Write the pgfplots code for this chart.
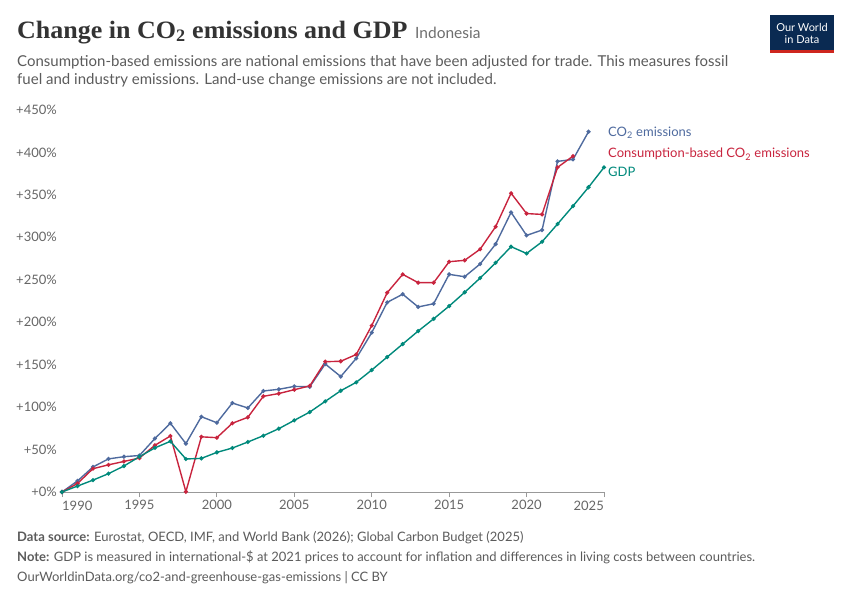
\documentclass[border=0pt]{standalone}
\usepackage{pgfplots}
\pgfplotsset{compat=1.18}
\usepackage{fontspec}
\setmainfont{Lato}
\newfontfamily\titlefont{Liberation Serif}
\definecolor{co2}{HTML}{4E6A9E}
\definecolor{cons}{HTML}{C8243E}
\definecolor{gdp}{HTML}{00897B}
\definecolor{txt}{HTML}{5B5B5B}
\definecolor{tick}{HTML}{666666}
\definecolor{owid}{HTML}{0A2A52}
\definecolor{owidred}{HTML}{CE261E}
\begin{document}
\begin{tikzpicture}
\path[use as bounding box] (0,0) rectangle (850bp,-600bp);
% title
\node[anchor=base west,inner sep=0pt,xscale=1.04] at (17bp,-38bp) {\titlefont\bfseries\fontsize{25bp}{28bp}\selectfont\color[HTML]{333333}Change in CO\textsubscript{2} emissions and GDP};
\node[anchor=base west,inner sep=0pt,text=black!57] at (415bp,-38bp) {\fontsize{15.5bp}{18bp}\selectfont Indonesia};
\node[anchor=base west,inner sep=0pt,text=txt,font=\fontsize{15bp}{17bp}\selectfont] at (17bp,-66.5bp) {Consumption-based emissions are national emissions that have been adjusted for trade. This measures fossil};
\node[anchor=base west,inner sep=0pt,text=txt,font=\fontsize{15bp}{17bp}\selectfont] at (17bp,-84bp) {fuel and industry emissions. Land-use change emissions are not included.};
% logo
\fill[owid] (770bp,-15bp) rectangle (834bp,-50bp);
\fill[owidred] (770bp,-50bp) rectangle (834bp,-53bp);
\node[text=white,align=center,inner sep=0pt,font=\fontsize{11bp}{12bp}\selectfont] at (802bp,-33bp) {Our World\\in Data};
\begin{axis}[
  at={(62bp,-492bp)}, anchor=south west,
  scale only axis, width=542bp, height=382bp,
  xmin=1990, xmax=2025, ymin=0, ymax=450,
  axis lines*=left,
  axis y line=none,
  axis x line*=bottom,
  x axis line style={draw=black!40,line width=0.8pt,-},
  xtick={1995,2000,...,2020},
  extra x ticks={1990,2025},
  extra x tick labels={},
  x tick label style={text=tick,font=\fontsize{13bp}{15bp}\selectfont},
  xticklabel={\pgfmathprintnumber[1000 sep=]{\tick}},
  major tick length=5bp,
  xtick style={draw=black!40,line width=0.8pt},
  tick align=outside,
  ytick={0,50,...,450},
  ymajorgrids,
  grid style={dashed,draw=black!15,line width=0.7pt,dash pattern=on 4bp off 3bp},
  clip=false,
  every axis plot/.append style={line width=1.4pt,mark=*,mark size=1.3pt},
  /pgf/number format/assume math mode=true,
]
\addplot[color=co2] coordinates {
(1990,0)(1991,13)(1992,29.5)(1993,39)(1994,41.6)(1995,43)(1996,63)(1997,81)(1998,57)(1999,88.7)
(2000,81.6)(2001,104.8)(2002,99)(2003,119)(2004,121)(2005,124.4)(2006,124)(2007,150.8)(2008,136)(2009,157.4)
(2010,187.7)(2011,223.4)(2012,233)(2013,218)(2014,221.8)(2015,256.4)(2016,253.6)(2017,268.6)(2018,292)(2019,329.4)
(2020,302.3)(2021,308.6)(2022,389.5)(2023,391.8)(2024,424.4)};
\addplot[color=cons] coordinates {
(1990,0)(1991,10)(1992,27.5)(1993,32)(1994,36)(1995,40)(1996,55)(1997,66)(1998,0.4)(1999,65)
(2000,64)(2001,81)(2002,88)(2003,112.7)(2004,116)(2005,120.5)(2006,125)(2007,153.5)(2008,154)(2009,162)
(2010,196)(2011,234.8)(2012,256.4)(2013,246.6)(2014,246.6)(2015,271.3)(2016,272.9)(2017,286)(2018,312.5)(2019,352)
(2020,328)(2021,327)(2022,382.4)(2023,395.7)};
\addplot[color=gdp] coordinates {
(1990,0)(1991,7)(1992,14)(1993,21.6)(1994,30.6)(1995,41.6)(1996,52)(1997,59.7)(1998,38.9)(1999,39.6)
(2000,46.7)(2001,51.8)(2002,58.9)(2003,66.3)(2004,74.6)(2005,84.4)(2006,94.2)(2007,106.8)(2008,119.3)(2009,129.2)
(2010,143.7)(2011,159)(2012,174.3)(2013,189.6)(2014,204)(2015,219)(2016,235.2)(2017,252)(2018,270)(2019,289)
(2020,281)(2021,294.8)(2022,315.7)(2023,336.9)(2024,359)(2025,382.4)};
\end{axis}
% edge x tick labels (shifted inward as in the reference)
\node[anchor=base west,inner sep=0pt,text=tick,font=\fontsize{13bp}{15bp}\selectfont] at (62bp,-510bp) {1990};
\node[anchor=base east,inner sep=0pt,text=tick,font=\fontsize{13bp}{15bp}\selectfont] at (604bp,-510bp) {2025};
% y tick labels
\foreach \v in {0,50,...,450}{
  \node[anchor=east,inner sep=0pt,text=tick,font=\fontsize{13bp}{15bp}\selectfont] at (57bp,{-492bp+\v*0.84889bp}) {+\v\%};
}
% legend labels
\node[anchor=west,inner sep=0pt,text=co2,font=\fontsize{13bp}{15bp}\selectfont] at (608bp,-132.5bp) {CO\textsubscript{2} emissions};
\node[anchor=west,inner sep=0pt,text=cons,font=\fontsize{13bp}{15bp}\selectfont] at (608bp,-154bp) {Consumption-based CO\textsubscript{2} emissions};
\node[anchor=west,inner sep=0pt,text=gdp,font=\fontsize{13bp}{15bp}\selectfont] at (608bp,-172bp) {GDP};
% footer
\node[anchor=base west,inner sep=0pt,text=txt,font=\fontsize{13bp}{15bp}\selectfont] at (17bp,-541bp) {\textbf{Data source:} Eurostat, OECD, IMF, and World Bank (2026); Global Carbon Budget (2025)};
\node[anchor=base west,inner sep=0pt,text=txt,font=\fontsize{13bp}{15bp}\selectfont] at (17bp,-561bp) {\textbf{Note:} GDP is measured in international-\$ at 2021 prices to account for inflation and differences in living costs between countries.};
\node[anchor=base west,inner sep=0pt,text=txt,font=\fontsize{13bp}{15bp}\selectfont] at (17bp,-581bp) {OurWorldinData.org/co2-and-greenhouse-gas-emissions | CC BY};
\end{tikzpicture}
\end{document}
